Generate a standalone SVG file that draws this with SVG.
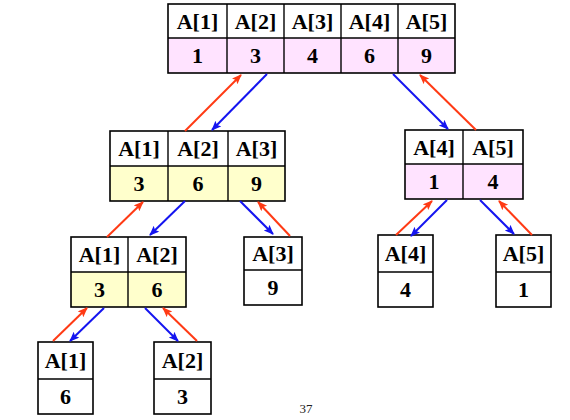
<svg xmlns="http://www.w3.org/2000/svg" width="570" height="420" viewBox="0 0 570 420">
<style>
.cell{fill:#fff;stroke:none}
.pink{fill:#FFE3FF}
.yel{fill:#FFFFCC}
.box{fill:none;stroke:#000;stroke-width:1.6}
.div{stroke:#000;stroke-width:1.4}
.t{font-family:"Liberation Serif","Times New Roman",serif;font-weight:bold;font-size:22px;text-anchor:middle;fill:#000}
.red{stroke:#FF3A14;stroke-width:2;fill:none;marker-end:url(#ar)}
.blue{stroke:#1414F0;stroke-width:2;fill:none;marker-end:url(#ab)}
.pg{font-family:"Liberation Serif","Times New Roman",serif;font-size:13px;text-anchor:middle;fill:#222}
</style>
<defs>
<marker id="ar" markerUnits="userSpaceOnUse" markerWidth="12" markerHeight="10" refX="9" refY="4" orient="auto"><path d="M0,0 L10,4 L0,8 L2,4 Z" fill="#FF3A14"/></marker>
<marker id="ab" markerUnits="userSpaceOnUse" markerWidth="12" markerHeight="10" refX="9" refY="4" orient="auto"><path d="M0,0 L10,4 L0,8 L2,4 Z" fill="#1414F0"/></marker>
</defs>
<rect width="570" height="420" fill="#fff"/>

<g id="n-top">
<rect class="cell" x="168" y="4" width="287" height="34"/>
<rect class="pink" x="168" y="38" width="287" height="35"/>
<rect class="box" x="168" y="4" width="287" height="69"/>
<line class="div" x1="168" y1="38" x2="455" y2="38"/>
<line class="div" x1="227" y1="4" x2="227" y2="73"/>
<line class="div" x1="284" y1="4" x2="284" y2="73"/>
<line class="div" x1="341" y1="4" x2="341" y2="73"/>
<line class="div" x1="398" y1="4" x2="398" y2="73"/>
<text class="t" x="197.5" y="29">A[1]</text>
<text class="t" x="255.5" y="29">A[2]</text>
<text class="t" x="312.5" y="29">A[3]</text>
<text class="t" x="369.5" y="29">A[4]</text>
<text class="t" x="426.5" y="29">A[5]</text>
<text class="t" x="197.5" y="63">1</text>
<text class="t" x="255.5" y="63">3</text>
<text class="t" x="312.5" y="63">4</text>
<text class="t" x="369.5" y="63">6</text>
<text class="t" x="426.5" y="63">9</text>
</g>

<g id="n-l2a">
<rect class="cell" x="110" y="131" width="175" height="35"/>
<rect class="yel" x="110" y="166" width="175" height="35"/>
<rect class="box" x="110" y="131" width="175" height="70"/>
<line class="div" x1="110" y1="166" x2="285" y2="166"/>
<line class="div" x1="168" y1="131" x2="168" y2="201"/>
<line class="div" x1="228" y1="131" x2="228" y2="201"/>
<text class="t" x="139" y="156">A[1]</text>
<text class="t" x="198" y="156">A[2]</text>
<text class="t" x="256.5" y="156">A[3]</text>
<text class="t" x="139" y="191">3</text>
<text class="t" x="198" y="191">6</text>
<text class="t" x="256.5" y="191">9</text>
</g>

<g id="n-l2b">
<rect class="cell" x="405" y="130" width="118" height="34"/>
<rect class="pink" x="405" y="164" width="118" height="35"/>
<rect class="box" x="405" y="130" width="118" height="69"/>
<line class="div" x1="405" y1="164" x2="523" y2="164"/>
<line class="div" x1="463" y1="130" x2="463" y2="199"/>
<text class="t" x="434" y="155">A[4]</text>
<text class="t" x="493" y="155">A[5]</text>
<text class="t" x="434" y="189">1</text>
<text class="t" x="493" y="189">4</text>
</g>

<g id="n-l3a">
<rect class="cell" x="71" y="237" width="115" height="35"/>
<rect class="yel" x="71" y="272" width="115" height="35"/>
<rect class="box" x="71" y="237" width="115" height="70"/>
<line class="div" x1="71" y1="272" x2="186" y2="272"/>
<line class="div" x1="128" y1="237" x2="128" y2="307"/>
<text class="t" x="99.5" y="262">A[1]</text>
<text class="t" x="157" y="262">A[2]</text>
<text class="t" x="99.5" y="297">3</text>
<text class="t" x="157" y="297">6</text>
</g>

<g id="n-a3">
<rect class="cell" x="244" y="237" width="58" height="68"/>
<rect class="box" x="244" y="237" width="58" height="68"/>
<line class="div" x1="244" y1="270" x2="302" y2="270"/>
<text class="t" x="273" y="261">A[3]</text>
<text class="t" x="273" y="295">9</text>
</g>

<g id="n-a4">
<rect class="cell" x="378" y="235" width="55" height="72"/>
<rect class="box" x="378" y="235" width="55" height="72"/>
<line class="div" x1="378" y1="272" x2="433" y2="272"/>
<text class="t" x="405.5" y="261">A[4]</text>
<text class="t" x="405.5" y="297">4</text>
</g>

<g id="n-a5">
<rect class="cell" x="496" y="235" width="55" height="72"/>
<rect class="box" x="496" y="235" width="55" height="72"/>
<line class="div" x1="496" y1="272" x2="551" y2="272"/>
<text class="t" x="523.5" y="261">A[5]</text>
<text class="t" x="523.5" y="297">1</text>
</g>

<g id="n-a1">
<rect class="cell" x="38" y="342" width="55" height="72"/>
<rect class="box" x="38" y="342" width="55" height="72"/>
<line class="div" x1="38" y1="379" x2="93" y2="379"/>
<text class="t" x="65.5" y="368">A[1]</text>
<text class="t" x="65.5" y="404">6</text>
</g>

<g id="n-a2">
<rect class="cell" x="154" y="342" width="57" height="72"/>
<rect class="box" x="154" y="342" width="57" height="72"/>
<line class="div" x1="154" y1="379" x2="211" y2="379"/>
<text class="t" x="182.5" y="368">A[2]</text>
<text class="t" x="182.5" y="404">3</text>
</g>

<g id="connectors">
<line class="red" x1="185" y1="131" x2="241" y2="75"/>
<line class="blue" x1="267" y1="74" x2="212" y2="130"/>
<line class="blue" x1="393" y1="74" x2="448" y2="129"/>
<line class="red" x1="476" y1="130" x2="420" y2="75"/>
<line class="red" x1="107" y1="237" x2="143" y2="202"/>
<line class="blue" x1="185" y1="201" x2="150" y2="235"/>
<line class="blue" x1="240" y1="201" x2="273" y2="234"/>
<line class="red" x1="290" y1="236" x2="258" y2="202"/>
<line class="red" x1="396" y1="235" x2="432" y2="201"/>
<line class="blue" x1="447" y1="200" x2="411" y2="236"/>
<line class="blue" x1="480" y1="200" x2="514" y2="234"/>
<line class="red" x1="532" y1="235" x2="499" y2="201"/>
<line class="red" x1="53" y1="341" x2="87" y2="308"/>
<line class="blue" x1="104" y1="308" x2="70" y2="341"/>
<line class="blue" x1="145" y1="308" x2="178" y2="341"/>
<line class="red" x1="197" y1="341" x2="163" y2="308"/>
</g>

<text class="pg" x="306" y="413">37</text>
</svg>
